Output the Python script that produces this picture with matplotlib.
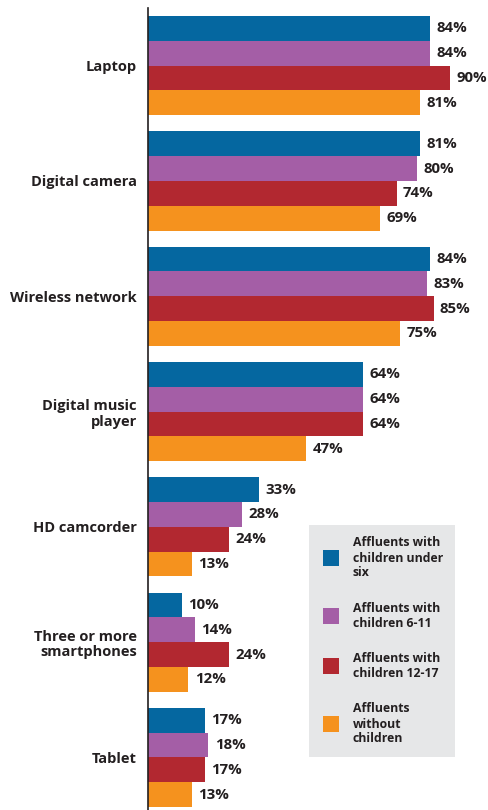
import matplotlib.pyplot as plt
from matplotlib.patches import Rectangle

plt.rcParams['font.family'] = ['Open Sans', 'DejaVu Sans']

# Datos
categorias = ["Laptop", "Digital camera", "Wireless network", "Digital music\nplayer",
              "HD camcorder", "Three or more\nsmartphones", "Tablet"]
series = ["Affluents with\nchildren under\nsix", "Affluents with\nchildren 6-11",
          "Affluents with\nchildren 12-17", "Affluents\nwithout\nchildren"]
menores_6 = [84, 81, 84, 64, 33, 10, 17]
de_6_11 = [84, 80, 83, 64, 28, 14, 18]
de_12_17 = [90, 74, 85, 64, 24, 24, 17]
sin_hijos = [81, 69, 75, 47, 13, 12, 13]

valores = [menores_6, de_6_11, de_12_17, sin_hijos]
colores = ["#0567a0", "#a45ea6", "#b22830", "#f5921e"]
texto = "#231f20"

W, H = 489, 810
fig = plt.figure(figsize=(W / 100, H / 100), dpi=100)
ax = fig.add_axes([148 / W, 0, 1 - 148 / W, 802 / H])

alto = 0.215
for j, (vals, color) in enumerate(zip(valores, colores)):
    for i, v in enumerate(vals):
        y = i - 1.5 * alto + j * alto
        ax.barh(y, v, height=alto, color=color, edgecolor='none')
        ax.text(v + 1.9, y, f"{v}%", va='center', ha='left', fontsize=10.8,
                fontweight='bold', color=texto)

ax.set_xlim(0, 101.5)
ax.set_ylim(6.456, -0.5)
ax.set_yticks(range(len(categorias)))
ax.set_yticklabels(categorias, fontsize=10.5, fontweight='bold', color=texto,
                   linespacing=1.15)
ax.tick_params(axis='y', length=0, pad=8)
ax.set_xticks([])
for lado in ['top', 'right', 'bottom']:
    ax.spines[lado].set_visible(False)
ax.spines['left'].set_color(texto)
ax.spines['left'].set_linewidth(1.2)

# Leyenda dibujada a mano (caja gris a la derecha, abajo)
def px(x, y):
    return x / W, 1 - y / H

x0, y0 = px(309, 757)
fig.add_artist(Rectangle((x0, y0), 146 / W, 232 / H, transform=fig.transFigure,
                         facecolor='#e6e7e8', edgecolor='none'))
centros = [558, 616, 666, 724]
for c, lab, yc in zip(colores, series, centros):
    sx, sy = px(323, yc + 8)
    fig.add_artist(Rectangle((sx, sy), 16 / W, 16 / H, transform=fig.transFigure,
                             facecolor=c, edgecolor='none'))
    tx, ty = px(353, yc)
    fig.text(tx, ty, lab, ha='left', va='center', fontsize=8.8, fontweight='bold',
             color=texto, linespacing=1.2)

fig.savefig("out.png", dpi=100)
